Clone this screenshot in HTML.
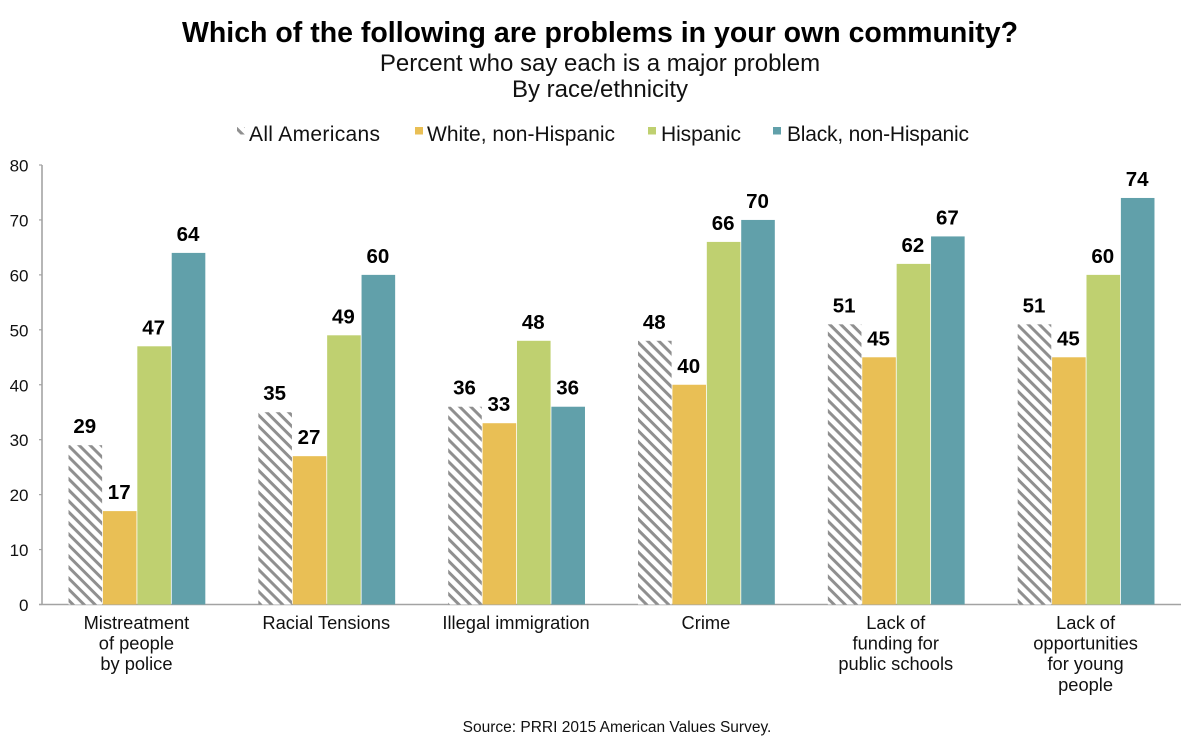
<!DOCTYPE html>
<html>
<head>
<meta charset="utf-8">
<style>
html,body{margin:0;padding:0;background:#fff;}
svg{display:block;font-family:"Liberation Sans",sans-serif;}
</style>
</head>
<body>
<svg id="chart" width="1200" height="737" viewBox="0 0 1200 737" xmlns="http://www.w3.org/2000/svg">
<defs>
<pattern id="hatch" patternUnits="userSpaceOnUse" width="7.8" height="7.8" patternTransform="rotate(45)">
<rect width="7.8" height="7.8" fill="#fff"/>
<rect width="7.8" height="3" fill="#8f8f8f"/>
</pattern>
</defs>
<rect width="1200" height="737" fill="#fff"/>
<text x="600" y="42" text-anchor="middle" font-size="28.5" font-weight="bold" fill="#000">Which of the following are problems in your own community?</text>
<text x="600" y="71" text-anchor="middle" font-size="24" fill="#111">Percent who say each is a major problem</text>
<text x="600" y="97" text-anchor="middle" font-size="24" fill="#111">By race/ethnicity</text>
<g id="legend"></g>
<g id="axes"></g>
<g id="bars"></g>
<g id="labels"></g>
<g id="cats"></g>
<text x="617" y="732" text-anchor="middle" font-size="15.5" fill="#111">Source: PRRI 2015 American Values Survey.</text>
</svg>
<script>
const categories = [
  ["Mistreatment","of people","by police"],
  ["Racial Tensions"],
  ["Illegal immigration"],
  ["Crime"],
  ["Lack of","funding for","public schools"],
  ["Lack of","opportunities","for young","people"]
];
const seriesNames = ["All Americans","White, non-Hispanic","Hispanic","Black, non-Hispanic"];
const allAmericans = [29,35,36,48,51,51];
const whiteNonHispanic = [17,27,33,40,45,45];
const hispanic = [47,49,48,66,62,60];
const blackNonHispanic = [64,60,36,70,67,74];
const yTicks = [0,10,20,30,40,50,60,70,80];

const seriesValues = [allAmericans, whiteNonHispanic, hispanic, blackNonHispanic];
const seriesFills = ["url(#hatch)","#e9bf55","#bfd070","#61a0aa"];
const NS = "http://www.w3.org/2000/svg";
const plot = {left:42, right:1181, top:165, bottom:604.5, max:80};
const barW = 33.6, barStep = 34.4;

function yScale(v){ return plot.bottom - (v / plot.max) * (plot.bottom - plot.top); }
function bandStart(i){ return plot.left + i * (plot.right - plot.left) / categories.length; }
function bandCenter(i){ return bandStart(i) + (plot.right - plot.left) / categories.length / 2; }
function xScale(i, s){ return bandCenter(i) - 2 * barStep + 0.4 + s * barStep; }
function make(tag, attrs, parent, txt){
  const e = document.createElementNS(NS, tag);
  for (const k in attrs) e.setAttribute(k, attrs[k]);
  if (txt !== undefined) e.textContent = txt;
  parent.appendChild(e);
  return e;
}

const axes = document.getElementById("axes");
const yLine = make("line", {x1:plot.left, x2:plot.left, y1:plot.top, y2:plot.bottom, stroke:"#a3a3a3", "stroke-width":1.6}, axes);


const xLine = make("line", {x1:plot.left - 3, x2:plot.right, y1:plot.bottom, y2:plot.bottom, stroke:"#a3a3a3", "stroke-width":1.6}, axes);


yTicks.forEach(function(t){
  const mark = make("line", {x1:plot.left - 3, x2:plot.left, y1:yScale(t), y2:yScale(t), stroke:"#a3a3a3", "stroke-width":1.2}, axes);
  
  
  const lab = make("text", {x:28.5, y:yScale(t) + 6.5, "text-anchor":"end", "font-size":17, fill:"#111"}, axes, t);
  
  
});

const bars = document.getElementById("bars");
const labels = document.getElementById("labels");
seriesValues.forEach(function(vals, s){
  vals.forEach(function(v, i){
    const r = make("rect", {x:xScale(i, s), y:yScale(v), width:barW, height:plot.bottom - yScale(v), fill:seriesFills[s]}, bars);
    
    
    const t = make("text", {x:xScale(i, s) + barW / 2 - 0.5, y:yScale(v) - 12, "text-anchor":"middle", "font-size":20.5, "font-weight":"bold", fill:"#000"}, labels, v);
    
    
  });
});

const cats = document.getElementById("cats");
categories.forEach(function(lines, i){
  lines.forEach(function(line, n){
    const t = make("text", {x:bandCenter(i) - 0.5, y:629 + n * 20.6, "text-anchor":"middle", "font-size":18.3, fill:"#111"}, cats, line);
    
    
  });
});

const legendSwatchX = [237,415,648,773];
const legendTextX = [249,427,661,787];
const legendTextW = [131,188,80,182];
const legend = document.getElementById("legend");
seriesNames.forEach(function(name, s){
  const sw = make("rect", {x:legendSwatchX[s], y:127, width:8, height:7.5, fill:seriesFills[s]}, legend);
  
  
  const t = make("text", {x:legendTextX[s], y:141, "font-size":21, fill:"#111", textLength:legendTextW[s]}, legend, name);
  
  
});
</script>
</body>
</html>
